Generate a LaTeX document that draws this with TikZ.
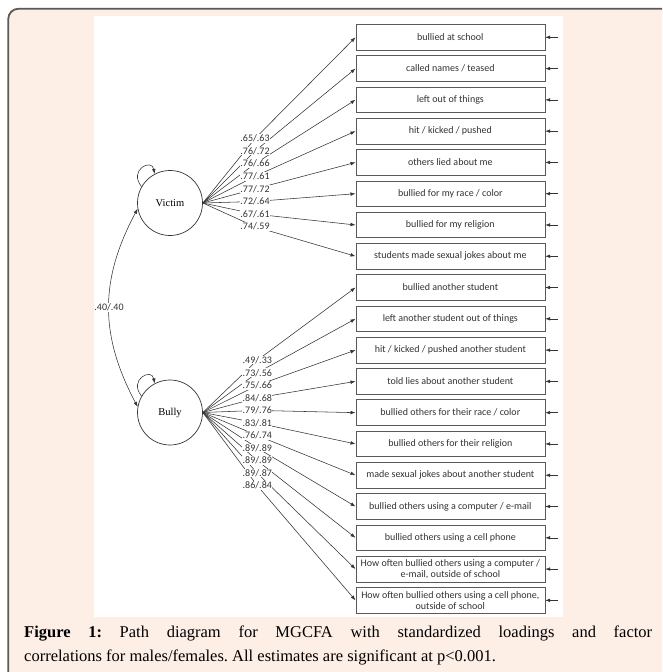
\documentclass[tikz,border=0pt]{standalone}
\usepackage{fontspec}
\setmainfont{Liberation Serif}
\newfontfamily\calfont{Carlito}
\usetikzlibrary{arrows.meta}
\definecolor{pinkbg}{HTML}{FDEEE6}
\definecolor{framec}{HTML}{595959}
\definecolor{inkc}{HTML}{333333}
\frenchspacing
\begin{document}
\begin{tikzpicture}[x=1pt,y=-1pt,
  item/.style={draw=framec, line width=0.7pt, minimum width=189pt, minimum height=25.7pt, inner sep=0pt, align=center, font=\calfont\fontsize{10}{11}\selectfont, text=inkc},
  latent/.style={circle, draw=inkc, line width=0.7pt, minimum size=65pt, inner sep=0pt, font=\fontsize{10.5}{12}\selectfont},
  load/.style={draw=inkc, line width=0.55pt, -{Latex[length=5pt,width=3.6pt]}},
  corr/.style={draw=inkc, line width=0.55pt, {Latex[length=5pt,width=3.6pt]}-{Latex[length=5pt,width=3.6pt]}},
  coef/.style={fill=white, inner sep=0.6pt, font=\calfont\fontsize{10}{11}\selectfont, text=inkc},
  captext/.style={anchor=base west, inner sep=0pt, font=\fontsize{16.5}{20}\selectfont, text=black}
]
\useasboundingbox (0,0) rectangle (662,672);
\clip (0,0) rectangle (662,672);
\draw[framec, line width=1.8pt, fill=pinkbg, rounded corners=10pt] (8.3,8.8) rectangle (700,710);
\fill[white] (94.3,15.5) rectangle (563,617);

\node[latent] (V) at (170,203) {Victim};
\node[latent] (B) at (170,412.5) {Bully};

\foreach \txt [count=\k] in {
  {bullied at school},
  {called names / teased},
  {left out of things},
  {hit / kicked / pushed},
  {others lied about me},
  {bullied for my race / color},
  {bullied for my religion},
  {students made sexual jokes about me},
  {bullied another student},
  {left another student out of things},
  {hit / kicked / pushed another student},
  {told lies about another student},
  {bullied others for their race / color},
  {bullied others for their religion},
  {made sexual jokes about another student},
  {bullied others using a computer / e-mail},
  {bullied others using a cell phone},
  {How often bullied others using a computer /\\e-mail, outside of school},
  {How often bullied others using a cell phone,\\outside of school}}{
  \pgfmathsetmacro\yy{37.3+31.28*(\k-1)}
  \node[item] (b\k) at (450.35,\yy) {\txt};
  \coordinate (e\k) at (558,\yy);
  \draw[load] (e\k) -- (b\k.east);
}

% victim loadings: lines
\foreach \k in {1,...,8}{
  \pgfmathsetmacro\yy{138.5+12.6*(\k-1)}
  \coordinate (cv\k) at (255,\yy);
  \draw[load] (V.east) -- (cv\k) -- (b\k.west);
}
% bully loadings: lines
\foreach \k in {1,...,11}{
  \pgfmathtruncatemacro\j{\k+8}
  \pgfmathsetmacro\yy{360.2+12.55*(\k-1)}
  \coordinate (cb\k) at (257.3,\yy);
  \draw[load] (B.east) -- (cb\k) -- (b\j.west);
}
% labels
\foreach \lab [count=\k] in {{.65/.63},{.76/.72},{.76/.66},{.77/.61},{.77/.72},{.72/.64},{.67/.61},{.74/.59}}{
  \node[coef] (tv\k) at (cv\k) {\lab};
}
\foreach \lab [count=\k] in {{.49/.33},{.73/.56},{.75/.66},{.84/.68},{.79/.76},{.83/.81},{.76/.74},{.89/.89},{.89/.89},{.89/.87},{.86/.84}}{
  \node[coef] (tb\k) at (cb\k) {\lab};
}

% self loops
\draw[load] (V.150) .. controls (128,170) and (152,158) .. (V.118);
\draw[load] (B.150) .. controls (128,379.5) and (152,367.5) .. (B.118);

% correlation
\draw[corr] (V.190) .. controls (99.5,280) and (99.5,335) .. (B.170)
  node[pos=0.5, coef] (r) {.40/.40};

% caption
\node[captext] (cap1) at (24,637) {\makebox[628pt][s]{\textbf{Figure 1:} Path diagram for MGCFA with standardized loadings and factor}};
\node[captext] (cap2) at (24,661) {correlations for males/females. All estimates are significant at p<0.001.};
\end{tikzpicture}
\end{document}
